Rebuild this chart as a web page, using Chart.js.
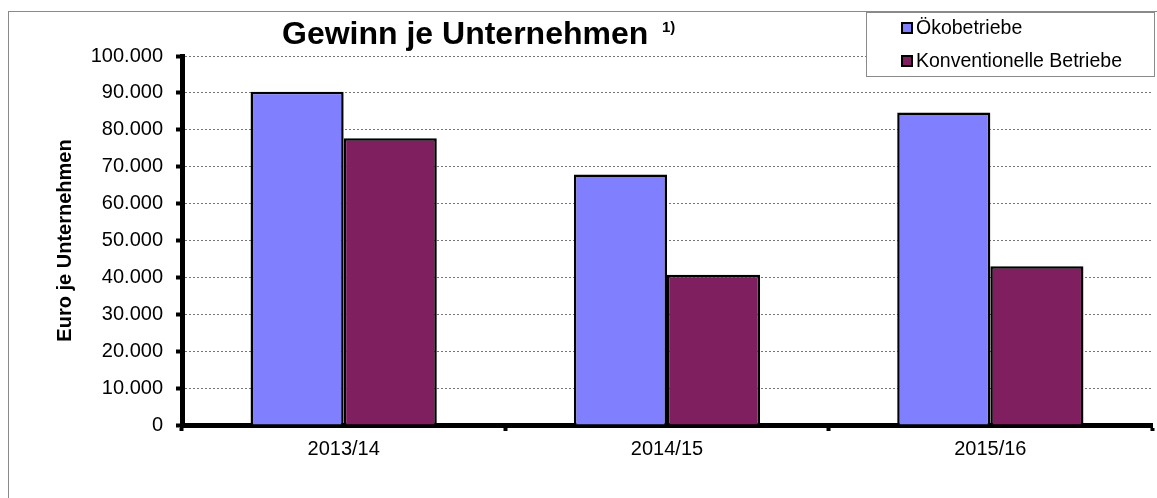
<!DOCTYPE html>
<html>
<head>
<meta charset="utf-8">
<script src="https://cdn.jsdelivr.net/npm/chart.js@4"></script>
<style>
  html, body { margin: 0; padding: 0; background: #fff; }
  #wrap { width: 1157px; height: 498px; }
</style>
</head>
<body>
<div id="wrap"><canvas id="gewinn" width="1157" height="498"></canvas></div>
<script>
// Gewinn je Unternehmen - Öko vs. konventionell
const categories = ['2013/14', '2014/15', '2015/16'];
const seriesNames = ['Ökobetriebe', 'Konventionelle Betriebe'];
const oekoValues = [90300, 67900, 84700];
const konvValues = [77700, 40700, 43000];
const yTickStep = 10000;
const yMax = 100000;

const titleText = 'Gewinn je Unternehmen';
const titleNote = '1)';
const yAxisTitle = 'Euro je Unternehmen';

const FONT = '"Liberation Sans", Arial, sans-serif';
const colors = ['#8080FF', '#7F1F5F'];

// 100000 -> "100.000"
function formatDe(v) {
    return String(Math.round(v)).replace(/\B(?=(\d{3})+(?!\d))/g, '.');
}

// frame, title and legend box are drawn by hand (Excel style)
const decoPlugin = {
    id: 'deco',
    beforeDraw(chart) {
        const ctx = chart.ctx;
        ctx.save();
        ctx.fillStyle = '#fff';
        ctx.fillRect(0, 0, chart.width, chart.height);
        ctx.strokeStyle = '#8a8a8a';
        ctx.lineWidth = 1;
        ctx.strokeRect(8.5, 11.5, 1170, 500);
        ctx.restore();
    },
    afterDraw(chart) {
        const ctx = chart.ctx;
        ctx.save();
        // title
        ctx.fillStyle = '#000';
        ctx.textBaseline = 'alphabetic';
        ctx.textAlign = 'left';
        ctx.font = 'bold 32px ' + FONT;
        ctx.fillText(titleText, 282, 44);
        ctx.font = 'bold 15px ' + FONT;
        ctx.fillText(titleNote, 662, 32);

        // legend box
        ctx.fillStyle = '#fff';
        ctx.fillRect(866.5, 12.5, 288, 64);
        ctx.strokeStyle = '#8a8a8a';
        ctx.lineWidth = 1;
        ctx.strokeRect(866.5, 12.5, 288, 64);
        chart.data.datasets.forEach((ds, i) => {
            const cy = 28 + i * 33;
            ctx.fillStyle = ds.backgroundColor;
            ctx.fillRect(902, cy - 5, 10, 10);
            ctx.strokeStyle = '#000';
            ctx.lineWidth = 2;
            ctx.strokeRect(902, cy - 5, 10, 10);
            ctx.fillStyle = '#000';
            ctx.font = '19.5px ' + FONT;
            ctx.textBaseline = 'middle';
            ctx.fillText(ds.label, 916, cy + 1);
        });
        ctx.restore();
    }
};

new Chart(document.getElementById('gewinn'), {
    type: 'bar',
    data: {
        labels: categories,
        datasets: [
            {
                label: seriesNames[0],
                data: oekoValues,
                backgroundColor: colors[0],
                borderColor: '#000',
                borderWidth: 2.5,
                borderSkipped: 'start'
            },
            {
                label: seriesNames[1],
                data: konvValues,
                backgroundColor: colors[1],
                borderColor: '#000',
                borderWidth: 2.5,
                borderSkipped: 'start'
            }
        ]
    },
    options: {
        responsive: false,
        animation: false,
        layout: { padding: { top: 56, left: 0, right: 5, bottom: 0 } },
        datasets: { bar: { barPercentage: 1, categoryPercentage: 0.576 } },
        plugins: {
            legend: { display: false },
            title: { display: false },
            tooltip: { enabled: false }
        },
        scales: {
            x: {
                afterFit(scale) { scale.height = 73; },
                grid: {
                    offset: true,
                    drawOnChartArea: false,
                    tickColor: '#000',
                    tickWidth: 4,
                    tickLength: 6
                },
                border: { display: true, color: '#000', width: 5 },
                ticks: {
                    color: '#000',
                    padding: 6,
                    font: { family: FONT, size: 20 }
                }
            },
            y: {
                min: 0,
                max: yMax,
                afterFit(scale) { scale.width = 182; },
                grid: {
                    color: '#777',
                    lineWidth: 1,
                    tickColor: '#000',
                    tickWidth: 4,
                    tickLength: 6
                },
                border: { display: true, color: '#000', width: 5, dash: [2, 2] },
                ticks: {
                    stepSize: yTickStep,
                    color: '#000',
                    padding: 13,
                    font: { family: FONT, size: 20 },
                    callback: v => formatDe(v)
                },
                title: {
                    display: true,
                    text: yAxisTitle,
                    color: '#000',
                    padding: { top: 53, bottom: 0 },
                    font: { family: FONT, size: 20, weight: 'bold' }
                }
            }
        }
    },
    plugins: [decoPlugin]
});
</script>
</body>
</html>
